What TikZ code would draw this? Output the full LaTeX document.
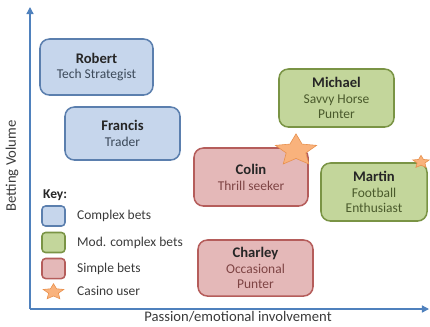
\documentclass[tikz,border=0pt]{standalone}
\usepackage{fontspec}
\setmainfont{Carlito}
\usetikzlibrary{shapes.geometric,arrows.meta}

\definecolor{axisblue}{HTML}{4F81BD}
\definecolor{cplxfill}{HTML}{C6D6EC}
\definecolor{cplxline}{HTML}{5B7FAE}
\definecolor{cplxtext}{HTML}{3C4A5A}
\definecolor{modfill}{HTML}{C3D69B}
\definecolor{modline}{HTML}{7A9445}
\definecolor{modtext}{HTML}{4A5A2C}
\definecolor{simplefill}{HTML}{E4B8B8}
\definecolor{simpleline}{HTML}{B55D5B}
\definecolor{simpletext}{HTML}{7E4444}
\definecolor{starfill}{HTML}{F9B27C}
\definecolor{starline}{HTML}{E8904C}
\definecolor{labeltext}{HTML}{3A3A3A}

\tikzset{
  persona/.style={draw, rounded corners=8pt, line width=1.3pt, align=center,
    font=\fontsize{11.5}{13.5}\selectfont, inner sep=2pt},
  complex/.style={persona, fill=cplxfill, draw=cplxline, text=cplxtext},
  modcomplex/.style={persona, fill=modfill, draw=modline, text=modtext},
  simple/.style={persona, fill=simplefill, draw=simpleline, text=simpletext},
  keybox/.style={draw, rounded corners=3pt, line width=1.3pt,
    minimum width=0.69cm, minimum height=0.6cm, inner sep=0pt},
  keytext/.style={anchor=west, text=labeltext, font=\fontsize{11.5}{12}\selectfont},
  casino/.style={star, star points=5, star point ratio=2.1, fill=starfill,
    draw=starline, line width=0.5pt, inner sep=0pt, xscale=1.3, transform shape},
  axis/.style={draw=axisblue, line width=1.2pt, -{Triangle[length=6pt,width=6pt]}},
}
\newcommand{\who}[1]{{\fontsize{12.5}{13.5}\selectfont\bfseries\color{black!85}#1}}

\begin{document}
\begin{tikzpicture}[x=0.03cm, y=-0.03cm]
  \useasboundingbox (0,0) rectangle (430,326);

  % axes
  \coordinate (origin) at (30,309);
  \coordinate (ytip) at (30,7);
  \coordinate (xtip) at (429,309);
  \draw[axis] (origin) -- (ytip);
  \draw[axis] (origin) -- (xtip);
  \node[rotate=90, text=labeltext, font=\fontsize{12.5}{13}\selectfont] (ylabel) at (12,166) {Betting Volume};
  \node[anchor=base, inner sep=0pt, text=labeltext, font=\fontsize{12.5}{13}\selectfont] (xlabel) at (238,321.5) {Passion/emotional involvement};

  % personas
  \node[complex, minimum width=3.39cm, minimum height=1.68cm] (robert) at (96.5,67) {\who{Robert}\\Tech Strategist};
  \node[complex, minimum width=3.45cm, minimum height=1.59cm] (francis) at (122.5,133.5) {\who{Francis}\\Trader};
  \node[modcomplex, minimum width=3.45cm, minimum height=1.74cm] (michael) at (336.5,98) {\who{Michael}\\Savvy Horse\\Punter};
  \node[simple, minimum width=3.42cm, minimum height=1.74cm] (colin) at (251,177) {\who{Colin}\\Thrill seeker};
  \node[modcomplex, minimum width=3.18cm, minimum height=1.74cm] (martin) at (374,192) {\who{Martin}\\Football\\Enthusiast};
  \node[simple, minimum width=3.45cm, minimum height=1.68cm] (charley) at (255.5,268) {\who{Charley}\\Occasional\\Punter};

  % casino users
  \node[casino, minimum size=1.0cm] (colinstar) at (296,150.5) {};
  \node[casino, minimum size=0.4cm] (martinstar) at (421,162) {};

  % key
  \node[anchor=west, font=\fontsize{11.5}{12}\selectfont\bfseries, text=black!85] (key) at (39,195) {Key:};
  \node[keybox, fill=cplxfill, draw=cplxline] (keycplx) at (53.5,216) {};
  \node[keybox, fill=modfill, draw=modline] (keymod) at (53.5,242.5) {};
  \node[keybox, fill=simplefill, draw=simpleline] (keysimple) at (53.5,268.5) {};
  \node[casino, minimum size=0.5cm] (keystar) at (53.5,292) {};
  \node[keytext] (lblcplx) at (73,216) {Complex bets};
  \node[keytext] (lblmod) at (73,242.5) {Mod. complex bets};
  \node[keytext] (lblsimple) at (73,268.5) {Simple bets};
  \node[keytext] (lblstar) at (73,291) {Casino user};
\end{tikzpicture}
\end{document}
